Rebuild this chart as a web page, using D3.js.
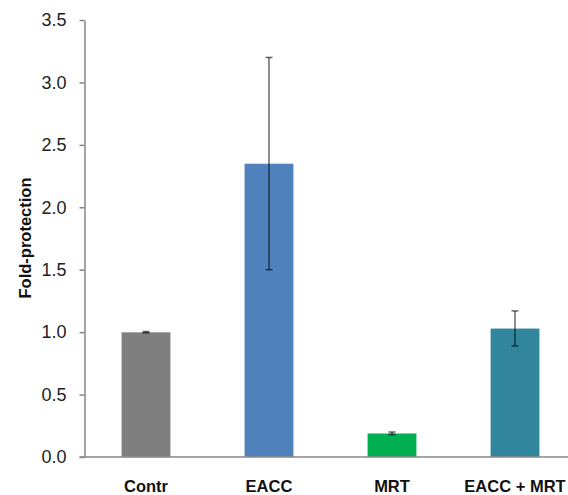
<!DOCTYPE html>
<html>
<head>
<meta charset="utf-8">
<script src="https://cdn.jsdelivr.net/npm/d3@7"></script>
<style>
  body { margin: 0; background: #fff; }
  svg text { font-family: "Liberation Sans", Arial, sans-serif; }
</style>
</head>
<body>
<div id="chart"></div>
<script>
var categories = ['Contr', 'EACC', 'MRT', 'EACC + MRT'];
var values = [1.0, 2.35, 0.19, 1.03];
var errLow = [0.995, 1.5, 0.18, 0.89];
var errHigh = [1.005, 3.2, 0.2, 1.17];
var colors = ['#7f7f7f', '#4f81bd', '#00b050', '#31859c'];
var yTicks = [0, 0.5, 1.0, 1.5, 2.0, 2.5, 3.0, 3.5];

var width = 568, height = 495;
var margin = { left: 84.5, top: 20, bottom: 38 };

var svg = d3.select('#chart')
    .append('svg')
    .attr('width', width)
    .attr('height', height);

var y = d3.scaleLinear()
    .domain([0, 3.5])
    .range([height - margin.bottom, margin.top]);

var x = d3.scaleBand()
    .domain(categories)
    .range([margin.left, margin.left + 4 * 123])
    .paddingInner(0.6)
    .paddingOuter(0.3);

// bars
svg.selectAll('.bar')
    .data(categories)
    .enter()
    .append('rect')
    .attr('class', 'bar')
    .attr('x', d => x(d))
    .attr('width', x.bandwidth())
    .attr('y', (d, i) => y(values[i]))
    .attr('height', (d, i) => y(0) - y(values[i]))
    .attr('fill', (d, i) => colors[i])
    .attr('stroke', 'rgba(255,255,255,0.35)')
    .attr('stroke-width', 1);

// error bars
var err = svg.append('g')
    .attr('stroke', '#000')
    .attr('stroke-opacity', 0.6)
    .attr('stroke-width', 1.5);

categories.forEach(function(c, i) {
    var cx = x(c) + x.bandwidth() / 2;
    err.append('line')
        .attr('x1', cx).attr('x2', cx)
        .attr('y1', y(errLow[i])).attr('y2', y(errHigh[i]));
    [errLow[i], errHigh[i]].forEach(function(v) {
        err.append('line')
            .attr('x1', cx - 3.5).attr('x2', cx + 3.5)
            .attr('y1', y(v)).attr('y2', y(v));
    });
});

// y axis
var yAxis = svg.append('g')
    .attr('transform', 'translate(' + margin.left + ',0)')
    .call(d3.axisLeft(y).tickValues(yTicks).tickFormat(d3.format('.1f')).tickSize(5).tickSizeOuter(0));
yAxis.select('.domain').attr('stroke', '#868686').attr('stroke-width', 1.5);
yAxis.selectAll('.tick line').attr('stroke', '#868686').attr('stroke-width', 1.5);
yAxis.selectAll('.tick text')
    .attr('x', -18)
    .attr('fill', '#222')
    .style('font-size', '18px');

// x axis line
svg.append('line')
    .attr('x1', margin.left - 5).attr('x2', width)
    .attr('y1', y(0)).attr('y2', y(0))
    .attr('stroke', '#868686')
    .attr('stroke-width', 1.5);

// x labels
svg.selectAll('.xlabel')
    .data(categories)
    .enter()
    .append('text')
    .attr('class', 'xlabel')
    .attr('x', d => x(d) + x.bandwidth() / 2)
    .attr('y', 492)
    .attr('text-anchor', 'middle')
    .style('font-size', '16.5px')
    .style('font-weight', 'bold')
    .attr('fill', '#111')
    .text(d => d);

// y title
svg.append('text')
    .attr('transform', 'translate(31,238) rotate(-90)')
    .attr('text-anchor', 'middle')
    .style('font-size', '16.5px')
    .style('font-weight', 'bold')
    .attr('fill', '#111')
    .text('Fold-protection');
</script>
</body>
</html>
